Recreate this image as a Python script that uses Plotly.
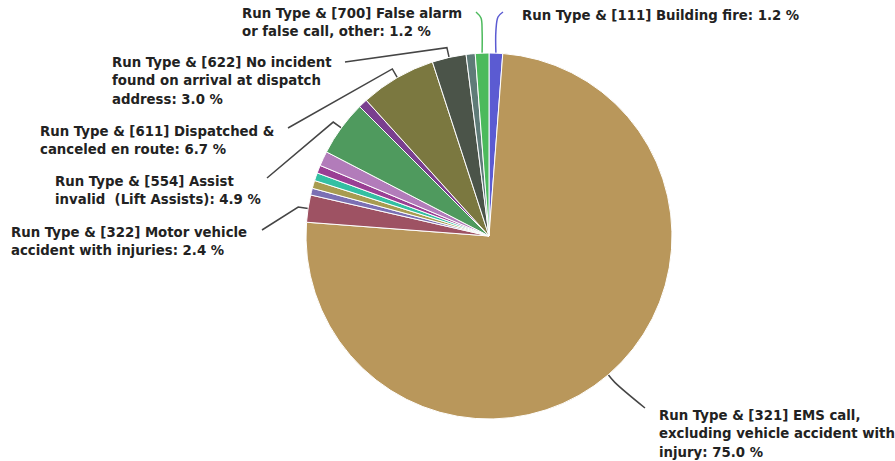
import math
import plotly.graph_objects as go

# ---------------- data ----------------
labels = [
    "Run Type & [111] Building fire",
    "Run Type & [321] EMS call, excluding vehicle accident with injury",
    "Run Type & [322] Motor vehicle accident with injuries",
    "Run Type & (other a)",
    "Run Type & (other b)",
    "Run Type & (other c)",
    "Run Type & (other d)",
    "Run Type & (other e)",
    "Run Type & [554] Assist invalid  (Lift Assists)",
    "Run Type & (other f)",
    "Run Type & [611] Dispatched & canceled en route",
    "Run Type & [622] No incident found on arrival at dispatch address",
    "Run Type & (other g)",
    "Run Type & [700] False alarm or false call, other",
]
values = [1.2, 75.0, 2.4, 0.6, 0.7, 0.7, 0.7, 1.3, 4.9, 0.8, 6.7, 3.0, 0.8, 1.2]
colors = ["#5b5bd2", "#b9975b", "#9e5263", "#7b70b4", "#a89c50", "#33c0a2",
          "#9a3f94", "#b27cba", "#4f9a5e", "#7a3f8f", "#7b7840", "#4b5449",
          "#5f7b78", "#4cba5c"]

# labelled slices: index -> text lines
label_lines = {
    0: ["Run Type & [111] Building fire: 1.2 %"],
    1: ["Run Type & [321] EMS call,", "excluding vehicle accident with", "injury: 75.0 %"],
    2: ["Run Type & [322] Motor vehicle", "accident with injuries: 2.4 %"],
    8: ["Run Type & [554] Assist", "invalid  (Lift Assists): 4.9 %"],
    10: ["Run Type & [611] Dispatched &", "canceled en route: 6.7 %"],
    11: ["Run Type & [622] No incident", "found on arrival at dispatch", "address: 3.0 %"],
    13: ["Run Type & [700] False alarm", "or false call, other: 1.2 %"],
}

# ---------------- layout constants (pixels) ----------------
W, H = 895, 461
CX, CY, R = 489, 236, 183

# label text block: (x_left, y_first_line_center)
label_pos = {
    0: (520, 15),
    1: (657, 415),
    2: (9, 232),
    8: (53, 181),
    10: (38, 131),
    11: (110, 62),
    13: (240, 13),
}
LINE_H = 18.5

# connector path from label side (pixel points), ending at knee -> slice edge
conn_start = {
    0: [(503, 12), (498, 17)],
    1: [(645, 408)],
    2: [(262, 230)],
    8: [(267, 178)],
    10: [(288, 128)],
    11: [(345, 62)],
    13: [(476, 12), (481, 18)],
}
conn_color = {0: "#5b5bd2", 13: "#4cba5c"}
spline_idx = {0, 1, 13}

fig = go.Figure()

fig.add_trace(go.Pie(
    labels=labels, values=values, sort=False, direction="clockwise", rotation=0,
    marker=dict(colors=colors, line=dict(color="white", width=1)),
    textinfo="none", hoverinfo="label+percent", showlegend=False,
    domain=dict(x=[(CX - R) / W, (CX + R) / W], y=[(H - CY - R) / H, (H - CY + R) / H]),
))

total = sum(values)
cum = 0.0
mids = []
for v in values:
    mids.append((cum + v / 2) / total)
    cum += v

for i, lines in label_lines.items():
    th = 2 * math.pi * mids[i]
    ex, ey = CX + R * math.sin(th), CY - R * math.cos(th)
    kx, ky = CX + (R + 10) * math.sin(th), CY - (R + 10) * math.cos(th)
    if i in (0, 13):
        pts = conn_start[i] + [(ex, ey - 22), (ex, ey)]
    else:
        pts = conn_start[i] + [(kx, ky), (ex, ey)]
    fig.add_trace(go.Scatter(
        x=[p[0] for p in pts], y=[p[1] for p in pts], mode="lines",
        line=dict(color=conn_color.get(i, "#454545"), width=1.5,
                  shape="spline" if i in spline_idx else "linear"),
        hoverinfo="skip", showlegend=False,
    ))
    x0, y0 = label_pos[i]
    for k, t in enumerate(lines):
        fig.add_annotation(
            x=x0, y=y0 + k * LINE_H, xref="x", yref="y", text=t, showarrow=False,
            xanchor="left", yanchor="middle",
            font=dict(family="DejaVu Sans", size=13.3, color="#222222", weight="bold"),
        )

fig.update_layout(
    width=W, height=H, margin=dict(l=0, r=0, t=0, b=0),
    paper_bgcolor="white", plot_bgcolor="rgba(0,0,0,0)",
    xaxis=dict(range=[0, W], visible=False, fixedrange=True, domain=[0, 1]),
    yaxis=dict(range=[H, 0], visible=False, fixedrange=True, domain=[0, 1]),
)

fig.write_html("out.html")
